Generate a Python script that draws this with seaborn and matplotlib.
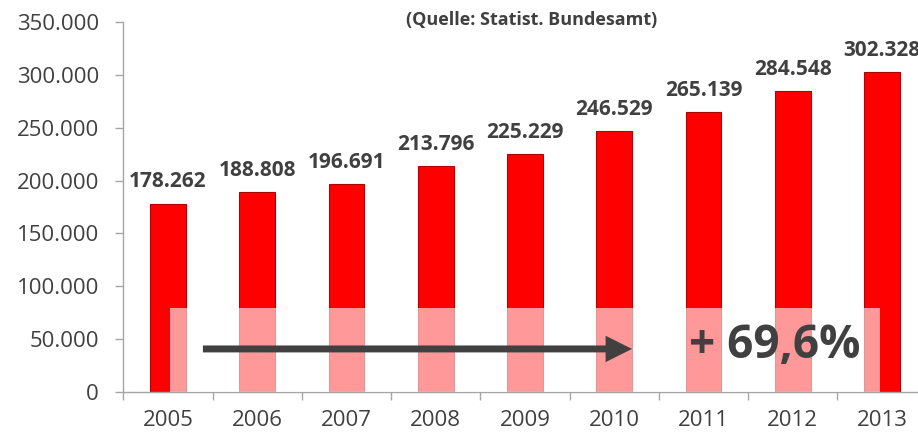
import matplotlib
matplotlib.use("Agg")
import matplotlib.pyplot as plt
import seaborn as sns
import pandas as pd
from matplotlib.patches import Rectangle
from matplotlib.ticker import FuncFormatter, MultipleLocator

# Data
years = ["2005", "2006", "2007", "2008", "2009", "2010", "2011", "2012", "2013"]
values = [178262, 188808, 196691, 213796, 225229, 246529, 265139, 284548, 302328]
growth_label = "+ 69,6%"
source_label = "(Quelle: Statist. Bundesamt)"

df = pd.DataFrame({"Jahr": years, "Wert": values})

sns.set_style("white")
plt.rcParams["font.family"] = ["Open Sans", "DejaVu Sans"]

text_color = "#404040"
axis_color = "#a6a6a6"


def de_format(v, pos=None):
    return f"{int(round(v)):,}".replace(",", ".")


fig = plt.figure(figsize=(9.18, 4.36), dpi=100)
ax = fig.add_axes([0.1344, 0.101, 0.875, 0.8486])

sns.barplot(data=df, x="Jahr", y="Wert", color="#ff0000", width=0.4,
            edgecolor="#b00000", linewidth=0.8, saturation=1, ax=ax)

# value labels above the bars (last one runs off the edge, as in the original)
ax.bar_label(ax.containers[0], labels=[de_format(v) for v in values],
             padding=8, fontsize=15, fontweight="bold", color=text_color)

ax.set_ylim(0, 350000)
ax.set_xlim(-0.5, 8.5)
ax.yaxis.set_major_locator(MultipleLocator(50000))
ax.yaxis.set_major_formatter(FuncFormatter(de_format))

# x ticks at category boundaries, labels at centers
ax.set_xticks(range(len(years)))
ax.set_xticklabels(years)
ax.set_xticks([i - 0.5 for i in range(len(years) + 1)], minor=True)
ax.tick_params(axis="x", which="major", length=0, pad=13, labelsize=16,
               labelcolor=text_color)
ax.tick_params(axis="x", which="minor", length=5.5, width=1, color=axis_color,
               direction="out", bottom=True)
ax.tick_params(axis="y", which="major", length=5.5, width=1, color=axis_color,
               direction="out", left=True, labelsize=16, labelcolor=text_color,
               pad=12)

for s in ["top", "right"]:
    ax.spines[s].set_visible(False)
for s in ["left", "bottom"]:
    ax.spines[s].set_color(axis_color)
    ax.spines[s].set_linewidth(1)

ax.set_xlabel("")
ax.set_ylabel("")

# semi-transparent white overlay
ax.add_patch(Rectangle((0.02, 0), 7.96, 79000, facecolor="white",
                       alpha=0.6, edgecolor="none", zorder=3))

# growth arrow
ax.annotate("", xy=(5.23, 40700), xytext=(0.36, 40700),
            arrowprops=dict(arrowstyle="simple,head_length=19,head_width=19,tail_width=5",
                            mutation_scale=1, fc=text_color, ec="none", lw=0),
            zorder=4)

ax.text(6.8, 44000, growth_label, fontsize=33, fontweight="bold",
        color=text_color, ha="center", va="center", zorder=5)

fig.text(0.5795, 0.954, source_label, fontsize=13, fontweight="bold",
         color=text_color, ha="center", va="center")

fig.savefig("out.png", dpi=100)
